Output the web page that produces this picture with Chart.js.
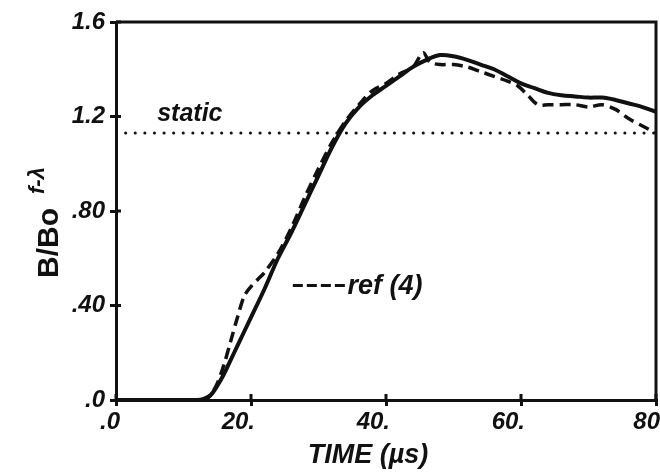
<!DOCTYPE html>
<html>
<head>
<meta charset="utf-8">
<script src="https://cdn.jsdelivr.net/npm/chart.js@4/dist/chart.umd.min.js"></script>
<style>
html,body{margin:0;padding:0;background:#fff;}
#wrap{width:660px;height:473px;}
</style>
</head>
<body>
<div id="wrap"><canvas id="c" width="660" height="473"></canvas></div>
<script>
// ---- data ----
const timeSolid = [0, 12, 13, 14, 15, 16, 17, 18, 20, 22, 24, 26, 28, 30, 32, 34, 36, 38, 40, 42, 44, 46, 48, 50, 52, 54, 56, 58, 60, 62, 64, 66, 68, 70, 72, 74, 76, 78, 80];
const bSolid    = [0, 0, 0.005, 0.02, 0.06, 0.11, 0.17, 0.23, 0.35, 0.47, 0.60, 0.71, 0.83, 0.95, 1.07, 1.17, 1.24, 1.29, 1.33, 1.37, 1.41, 1.44, 1.46, 1.455, 1.44, 1.42, 1.40, 1.37, 1.34, 1.32, 1.30, 1.29, 1.285, 1.28, 1.28, 1.27, 1.255, 1.24, 1.22];
const timeRef   = [0, 13, 14, 15, 16, 17, 18, 19, 20, 21, 22, 24, 26, 28, 30, 32, 34, 36, 38, 40, 42, 44, 45.5, 46.5, 48, 50, 52, 54, 56, 58, 59.5, 61, 62.5, 64, 66, 68, 70, 72, 74, 76, 78, 80];
const bRef      = [0, 0, 0.02, 0.07, 0.15, 0.25, 0.35, 0.44, 0.48, 0.51, 0.54, 0.62, 0.73, 0.86, 0.98, 1.09, 1.18, 1.25, 1.31, 1.34, 1.38, 1.41, 1.47, 1.43, 1.42, 1.42, 1.41, 1.39, 1.37, 1.35, 1.33, 1.29, 1.25, 1.25, 1.25, 1.25, 1.24, 1.25, 1.23, 1.19, 1.16, 1.13];
const staticTime = [0, 80];
const staticLevel = 1.13;
const xTickLabels = [".0", "20.", "40.", "60.", "80"];
const yTickLabels = [".0", ".40", ".80", "1.2", "1.6"];
const xTitle = "TIME (\u00b5s)";
const yTitleMain = "B/Bo";
const yTitleSup = "f-\u03bb";
const staticLabel = "static";
const refLabel = "ref (4)";

const FONT = "'Liberation Sans', Arial, sans-serif";

const pts = (xs, ys) => xs.map((x, i) => ({x: x, y: ys[i]}));

const decor = {
  id: 'decor',
  afterDraw(chart) {
    const ctx = chart.ctx;
    const a = chart.chartArea;
    const xs = chart.scales.x, ys = chart.scales.y;
    ctx.save();
    // frame (top and right)
    ctx.strokeStyle = '#111';
    ctx.lineWidth = 3;
    ctx.beginPath();
    ctx.moveTo(a.left, a.top);
    ctx.lineTo(a.right, a.top);
    ctx.lineTo(a.right, a.bottom);
    ctx.stroke();
    // inward tick marks
    ctx.lineWidth = 3;
    ctx.beginPath();
    xs.ticks.forEach(t => { const p = xs.getPixelForValue(t.value); ctx.moveTo(p, a.bottom); ctx.lineTo(p, a.bottom - 6); });
    ys.ticks.forEach(t => { const p = ys.getPixelForValue(t.value); ctx.moveTo(a.left, p); ctx.lineTo(a.left + 5, p); });
    ctx.stroke();
    ctx.fillStyle = '#111';
    // static label
    ctx.font = "italic bold 25px " + FONT;
    ctx.textAlign = 'left';
    ctx.textBaseline = 'alphabetic';
    ctx.fillText(staticLabel, xs.getPixelForValue(6.1), ys.getPixelForValue(1.18));
    // ref legend
    const ly = ys.getPixelForValue(0.485);
    const lx0 = xs.getPixelForValue(26.2), lx1 = xs.getPixelForValue(34);
    ctx.setLineDash([10, 4]);
    ctx.lineWidth = 3;
    ctx.beginPath(); ctx.moveTo(lx0, ly); ctx.lineTo(lx1, ly); ctx.stroke();
    ctx.setLineDash([]);
    ctx.font = "italic bold 27px " + FONT;
    ctx.fillText(refLabel, lx1 + 2, ly + 9);
    // x title
    ctx.font = "italic bold 27px " + FONT;
    ctx.textAlign = 'center';
    ctx.fillText(xTitle, 368, 463);
    // y title rotated
    ctx.translate(58, 278);
    ctx.rotate(-Math.PI / 2);
    ctx.textAlign = 'left';
    ctx.font = "bold 30px " + FONT;
    ctx.fillText(yTitleMain, 0, 0);
    const w = ctx.measureText(yTitleMain).width;
    ctx.font = "italic bold 22px " + FONT;
    ctx.fillText(yTitleSup, w + 14, -14);
    ctx.restore();
  }
};

new Chart(document.getElementById('c'), {
  type: 'scatter',
  data: {
    datasets: [
      { data: pts(timeSolid, bSolid), showLine: true, borderColor: '#111', borderWidth: 4, pointRadius: 0, tension: 0.35, fill: false },
      { data: pts(timeRef, bRef), showLine: true, borderColor: '#111', borderWidth: 3.5, borderDash: [11, 6], pointRadius: 0, tension: 0.3, fill: false },
      { data: pts(staticTime, [staticLevel, staticLevel]), showLine: true, borderColor: '#111', borderWidth: 3, borderDash: [0.1, 9.5], borderCapStyle: 'round', pointRadius: 0, fill: false }
    ]
  },
  options: {
    responsive: false,
    animation: false,
    devicePixelRatio: 1,
    layout: { padding: { top: 22, right: 4, left: 0, bottom: 0 } },
    plugins: { legend: { display: false }, tooltip: { enabled: false } },
    scales: {
      x: {
        type: 'linear', min: 0, max: 80,
        afterFit: s => { s.height = 73; },
        border: { display: true, color: '#111', width: 3 },
        grid: { drawOnChartArea: false, drawTicks: true, tickLength: 6, color: '#111', lineWidth: 3 },
        ticks: { stepSize: 20, align: 'end', labelOffset: 4, padding: 2, color: '#111',
                 font: { family: FONT, size: 24, style: 'italic', weight: 'bold' },
                 callback: (v, i) => xTickLabels[i] },
        title: { display: false }
      },
      y: {
        type: 'linear', min: 0, max: 1.6,
        afterFit: s => { s.width = 116; },
        border: { display: true, color: '#111', width: 3 },
        grid: { drawOnChartArea: false, drawTicks: true, tickLength: 6, color: '#111', lineWidth: 3 },
        ticks: { stepSize: 0.4, padding: 5, color: '#111',
                 font: { family: FONT, size: 24, style: 'italic', weight: 'bold' },
                 callback: (v, i) => yTickLabels[i] },
        title: { display: false }
      }
    }
  },
  plugins: [decor]
});
</script>
</body>
</html>
